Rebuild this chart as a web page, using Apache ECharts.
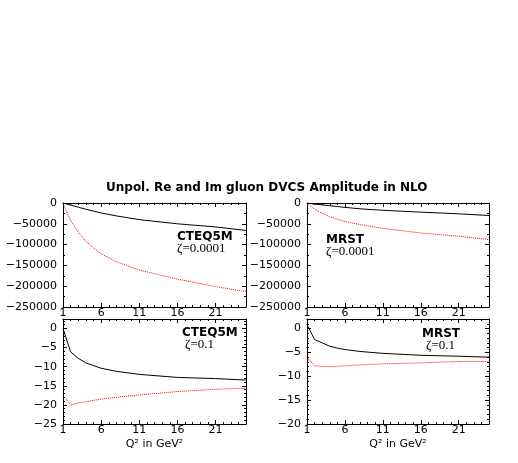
<!DOCTYPE html>
<html>
<head>
<meta charset="utf-8">
<script src="https://cdn.jsdelivr.net/npm/echarts@6/dist/echarts.min.js"></script>
<style>
    html, body { margin: 0; padding: 0; background: #fff; }
    #chart { width: 518px; height: 463px; }
</style>
</head>
<body>
<div id="chart"></div>
<script>
// Q^2 in GeV^2
let q2 = [1, 2, 3, 4, 5, 6, 8, 11, 16, 21, 25];

// zeta = 0.0001
let cteqReSmall = [0, -5000, -10000, -15000, -19500, -24000, -31000, -40000, -50000, -57500, -66000];
let cteqImSmall = [0, -42000, -70000, -92000, -108000, -122000, -141000, -161000, -183000, -201000, -213000];
let mrstReSmall = [0, -2500, -4500, -6500, -8500, -10500, -14000, -17500, -22000, -26000, -30000];
let mrstImSmall = [0, -15000, -25000, -33000, -39000, -44500, -52000, -61000, -72000, -80000, -88000];

// zeta = 0.1
let cteqReBig = [0, -6.1, -7.8, -9.0, -9.7, -10.4, -11.2, -12.0, -12.8, -13.1, -13.5];
let cteqImBig = [-17.6, -20.0, -19.5, -19.2, -18.8, -18.5, -18.0, -17.4, -16.5, -15.9, -15.6];
let mrstReBig = [0.8, -2.3, -3.0, -3.7, -4.1, -4.4, -4.8, -5.2, -5.6, -5.8, -6.0];
let mrstImBig = [-6.1, -7.8, -7.9, -8.0, -7.9, -7.8, -7.6, -7.4, -7.2, -6.9, -6.9];

let xTicks = [1, 6, 11, 16, 21];

let font = 'DejaVu Sans, Verdana, sans-serif';
let serif = 'Liberation Serif, Times New Roman, serif';

function pts(vals) {
    // x axis runs 0..24 internally so the ticks start at Q^2 = 1
    return q2.map((q, i) => [q - 1, vals[i]]);
}

function minus(v) {
    return String(v).replace('-', '\u2212');
}

let grids = [
    {left: 63, top: 203, width: 183, height: 104},
    {left: 307, top: 203, width: 182, height: 104},
    {left: 63, top: 319, width: 183, height: 105},
    {left: 307, top: 319, width: 182, height: 105}
];
let yRanges = [
    {min: -250000, max: 0, interval: 50000, minor: 2},
    {min: -250000, max: 0, interval: 50000, minor: 2},
    {min: -25, max: 2.5, interval: 5, minor: 5},
    {min: -20, max: 2, interval: 5, minor: 5}
];

let tickStyle = {inside: true, length: 4, lineStyle: {color: '#000', width: 1}};
let lineStyle = {show: true, onZero: false, lineStyle: {color: '#000', width: 1}};

let xAxes = [];
let yAxes = [];
grids.forEach((g, i) => {
    let bottomRow = i >= 2;
    xAxes.push({
        type: 'value', gridIndex: i, min: 0, max: 24, interval: 5,
        position: 'bottom',
        axisLine: lineStyle,
        axisTick: tickStyle,
        minorTick: {show: true, splitNumber: 5, length: 2, lineStyle: {color: '#000'}},
        splitLine: {show: false},
        axisLabel: {
            color: '#000', fontFamily: font, fontSize: 11, margin: 1,
            showMaxLabel: false, hideOverlap: false,
            formatter: v => xTicks.indexOf(v + 1) >= 0 ? String(v + 1) : ''
        },
        name: bottomRow ? 'Q\u00b2 in GeV\u00b2' : '',
        nameLocation: 'middle', nameGap: 15,
        nameTextStyle: {color: '#000', fontFamily: font, fontSize: 11}
    });
    xAxes.push({
        type: 'value', gridIndex: i, min: 0, max: 24, interval: 5,
        position: 'top',
        axisLine: lineStyle,
        axisTick: tickStyle,
        minorTick: {show: true, splitNumber: 5, length: 2, lineStyle: {color: '#000'}},
        splitLine: {show: false},
        axisLabel: {show: false}
    });
    let r = yRanges[i];
    yAxes.push({
        type: 'value', gridIndex: i, min: r.min, max: r.max, interval: r.interval,
        position: 'left',
        axisLine: lineStyle,
        axisTick: tickStyle,
        minorTick: {show: true, splitNumber: r.minor, length: 2, lineStyle: {color: '#000'}},
        splitLine: {show: false},
        axisLabel: {
            color: '#000', fontFamily: font, fontSize: 11, margin: 6,
            showMaxLabel: r.max === 0, hideOverlap: false,
            formatter: v => minus(v)
        }
    });
    yAxes.push({
        type: 'value', gridIndex: i, min: r.min, max: r.max, interval: r.interval,
        position: 'right',
        axisLine: lineStyle,
        axisTick: tickStyle,
        minorTick: {show: true, splitNumber: r.minor, length: 2, lineStyle: {color: '#000'}},
        splitLine: {show: false},
        axisLabel: {show: false}
    });
});

let panelData = [
    [cteqReSmall, cteqImSmall],
    [mrstReSmall, mrstImSmall],
    [cteqReBig, cteqImBig],
    [mrstReBig, mrstImBig]
];
let series = [];
panelData.forEach((pair, i) => {
    series.push({
        type: 'line', xAxisIndex: i * 2, yAxisIndex: i * 2,
        data: pts(pair[0]), showSymbol: false,
        lineStyle: {color: '#000', width: 1}
    });
    series.push({
        type: 'line', xAxisIndex: i * 2, yAxisIndex: i * 2,
        data: pts(pair[1]), showSymbol: false,
        lineStyle: {color: '#ff0000', width: 1, type: [1, 1]}
    });
});

function label(x, y, text, bold) {
    return {
        type: 'text', left: x, top: y,
        style: {
            text: text, fill: '#000',
            font: bold ? 'bold 12px ' + font : '13px ' + serif
        }
    };
}

let myChart = echarts.init(document.getElementById('chart'));
let option = {
    backgroundColor: '#fff',
    animation: false,
    title: {
        text: 'Unpol. Re and Im gluon DVCS Amplitude in NLO',
        left: 101, top: 177,
        textStyle: {color: '#000', fontFamily: font, fontSize: 12, fontWeight: 'bold'}
    },
    grid: grids,
    xAxis: xAxes,
    yAxis: yAxes,
    series: series,
    graphic: [
        label(177, 231, 'CTEQ5M', true),
        label(177, 242, '\u03b6=0.0001', false),
        label(326, 234, 'MRST', true),
        label(326, 245, '\u03b6=0.0001', false),
        label(182, 327, 'CTEQ5M', true),
        label(185, 338, '\u03b6=0.1', false),
        label(422, 328, 'MRST', true),
        label(426, 339, '\u03b6=0.1', false)
    ]
};
myChart.setOption(option);
</script>
</body>
</html>
